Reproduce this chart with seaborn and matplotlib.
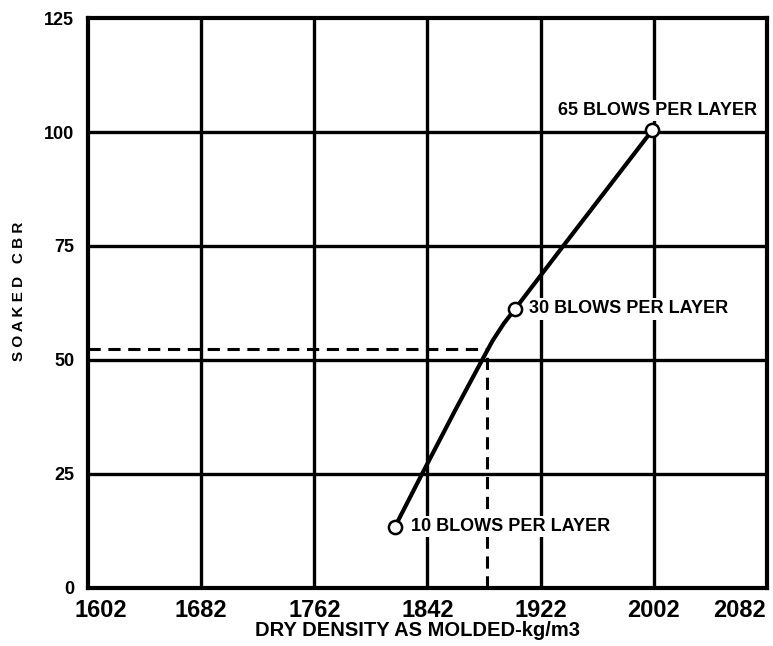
import pandas as pd
import seaborn as sns
import matplotlib.pyplot as plt
from matplotlib.transforms import ScaledTranslation

# curve
curve_density = [1819, 1839, 1862, 1880, 1888, 1896, 1904, 1938, 2001]
curve_cbr = [13.4, 25.5, 39.2, 49.6, 54.2, 58.0, 61.2, 75, 100.4]

# compaction points
blows_density = [1819, 1904, 2001]
blows_cbr = [13.4, 61.2, 100.4]
blows_labels = ['10 BLOWS PER LAYER', '30 BLOWS PER LAYER', '65 BLOWS PER LAYER']

design_density = 1884
design_cbr = 52.5

x_ticks = [1602, 1682, 1762, 1842, 1922, 2002, 2082]
y_ticks = [0, 25, 50, 75, 100, 125]

sns.set_style("white", {"text.color": "black", "axes.labelcolor": "black",
                        "xtick.color": "black", "ytick.color": "black"})
plt.rcParams['font.family'] = ['Liberation Sans', 'DejaVu Sans']
plt.rcParams['font.weight'] = 'bold'

fig = plt.figure(figsize=(7.73, 6.46), dpi=100)
ax = fig.add_axes([0.114, 0.090, 0.878, 0.882])

for xv in x_ticks[1:-1]:
    ax.axvline(xv, color='black', lw=2.4, zorder=1)
for yv in y_ticks[1:-1]:
    ax.axhline(yv, color='black', lw=2.4, zorder=1)

# dashed lines to the design point
ax.plot([x_ticks[0], design_density], [design_cbr, design_cbr], color='black', lw=2.2, ls=(0, (4, 2.5)), zorder=2)
ax.plot([design_density, design_density], [0, design_cbr], color='black', lw=2.2, ls=(0, (4, 2.5)), zorder=2)

curve = pd.DataFrame({'density': curve_density, 'cbr': curve_cbr})
sns.lineplot(data=curve, x='density', y='cbr', sort=False, color='black', lw=3, ax=ax, zorder=3)

pts = pd.DataFrame({'density': blows_density, 'cbr': blows_cbr})
sns.scatterplot(data=pts, x='density', y='cbr', s=90, facecolor='white', edgecolor='black', linewidth=1.8, ax=ax, zorder=5)

bb = dict(facecolor='white', edgecolor='none', pad=1.5)
ax.text(blows_density[0] + 11, blows_cbr[0], blows_labels[0], fontsize=13, fontweight='bold', color='black', va='center', ha='left', bbox=bb, zorder=4)
ax.text(blows_density[1] + 10, blows_cbr[1], blows_labels[1], fontsize=13, fontweight='bold', color='black', va='center', ha='left', bbox=bb, zorder=4)
ax.text(blows_density[2] + 4, blows_cbr[2] + 4.3, blows_labels[2], fontsize=13, fontweight='bold', color='black', va='center', ha='center', bbox=bb, zorder=4)

ax.set_xlim(x_ticks[0], x_ticks[-1])
ax.set_ylim(y_ticks[0], y_ticks[-1])
ax.set_xticks(x_ticks)
ax.set_yticks(y_ticks)
ax.tick_params(axis='x', length=0, pad=8, labelsize=17, labelcolor='black')
ax.tick_params(axis='y', length=0, pad=10, labelsize=13, labelcolor='black')
for lab in ax.get_xticklabels() + ax.get_yticklabels():
    lab.set_fontweight('bold')

# nudge the end labels inwards like the original
xlabs = ax.get_xticklabels()
xlabs[0].set_transform(xlabs[0].get_transform() + ScaledTranslation(0.13, 0, fig.dpi_scale_trans))
xlabs[-1].set_transform(xlabs[-1].get_transform() + ScaledTranslation(-0.27, 0, fig.dpi_scale_trans))

for sp in ax.spines.values():
    sp.set_color('black')
    sp.set_linewidth(3)

ax.set_xlabel('DRY DENSITY AS MOLDED-kg/m3', fontsize=14.5, fontweight='bold', color='black')
ax.xaxis.set_label_coords(0.485, -0.058)
ax.set_ylabel('S O A K E D   C B R', fontsize=11, fontweight='bold', color='black')
ax.yaxis.set_label_coords(-0.092, 0.52)

plt.savefig('out.png', dpi=100)
